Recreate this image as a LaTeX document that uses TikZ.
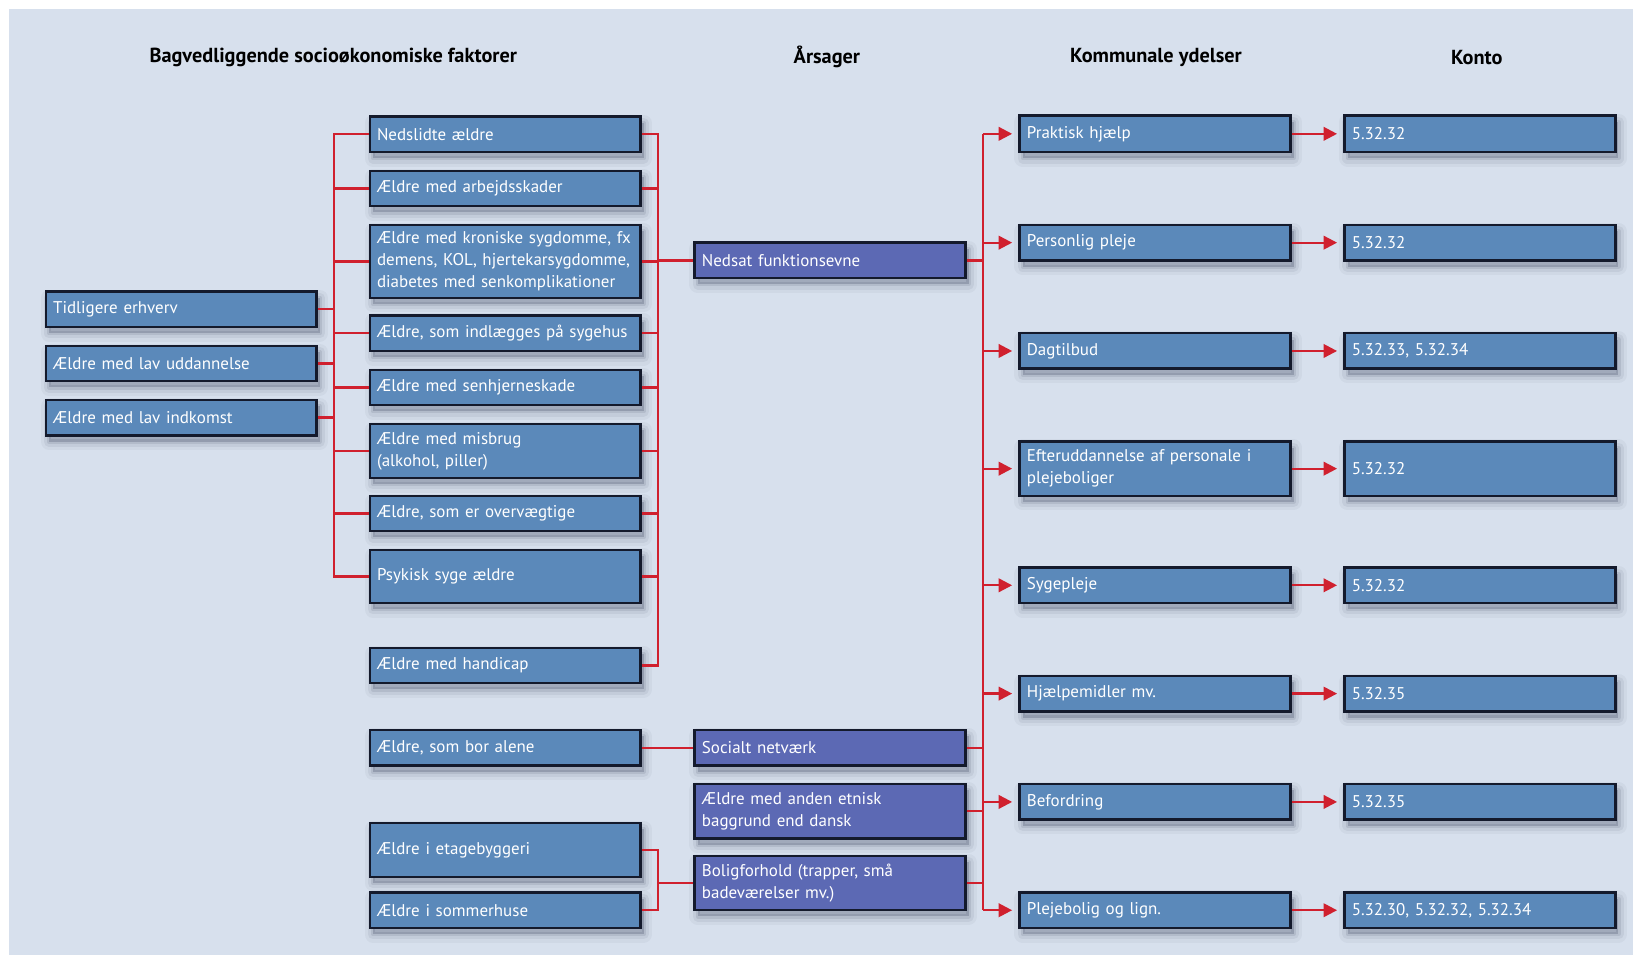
\documentclass[tikz,border=0pt]{standalone}
\usepackage{fontspec}
\setmainfont{PT Sans}
\usetikzlibrary{arrows.meta,shadows}

\definecolor{bgpanel}{HTML}{D7E0ED}
\definecolor{boxblue}{HTML}{5B89BA}
\definecolor{boxviolet}{HTML}{5C69B4}
\definecolor{boxedge}{HTML}{141A2C}
\definecolor{linkred}{HTML}{D0202E}
\definecolor{shadowtone}{HTML}{1E2A44}

\begin{document}
\begin{tikzpicture}[x=1pt,y=-1pt,
  % soft shadow built from stacked translucent layers
  softshadow/.style={
    drop shadow={shadow xshift=3pt, shadow yshift=-6pt, fill=shadowtone,
      draw=shadowtone, line width=16pt, line join=round, opacity=0.045},
    drop shadow={shadow xshift=3pt, shadow yshift=-6pt, fill=shadowtone,
      draw=shadowtone, line width=10pt, line join=round, opacity=0.065},
    drop shadow={shadow xshift=3pt, shadow yshift=-6pt, fill=shadowtone,
      draw=shadowtone, line width=4pt, line join=round, opacity=0.1}},
  box/.style={draw=boxedge, line width=2.3pt, fill=boxblue, text=white,
    minimum width=260pt, text width=246pt, inner xsep=7pt, inner ysep=0pt,
    minimum height=34pt, align=left,
    font=\fontsize{16.3}{21}\selectfont, softshadow},
  cause/.style={box, fill=boxviolet},
  tall/.style={minimum height=52pt},
  head/.style={font=\bfseries\fontsize{19.5}{22}\selectfont, text=black},
  link/.style={draw=linkred, line width=2.2pt},
  arrowlink/.style={link, -{Triangle[length=13pt,width=13pt]}, shorten >=6pt}
]
% page and panel
\fill[white] (0,0) rectangle (1568,917);
\useasboundingbox (0,0) rectangle (1568,917);
\fill[bgpanel] (8.6,8.6) rectangle (1568,917);

% column headings
\node[head] (hA) at (320,55) {Bagvedliggende socioøkonomiske faktorer};
\node[head] (hC) at (794,55) {Årsager};
\node[head] (hD) at (1110,55) {Kommunale ydelser};
\node[head] (hE) at (1418,55) {Konto};

% bus positions
\coordinate (busL) at (321,0);
\coordinate (busM) at (632,0);
\coordinate (busR) at (944,0);

% background factors
\node[box] (a1) at (174,297) {Tidligere erhverv};
\node[box] (a2) at (174,349) {Ældre med lav uddannelse};
\node[box] (a3) at (174,401) {Ældre med lav indkomst};

\node[box] (b1) at (485,129) {Nedslidte ældre};
\node[box] (b2) at (485,181) {Ældre med arbejdsskader};
\node[box, minimum height=70pt] (b3) at (485,251) {Ældre med kroniske sygdomme, fx\\demens, KOL, hjertekarsygdomme,\\diabetes med senkomplikationer};
\node[box] (b4) at (485,320) {Ældre, som indlægges på sygehus};
\node[box] (b5) at (485,372) {Ældre med senhjerneskade};
\node[box, tall] (b6) at (485,433) {Ældre med misbrug\\(alkohol, piller)};
\node[box] (b7) at (485,493) {Ældre, som er overvægtige};
\node[box, minimum height=51pt] (b8) at (485,553.5) {Psykisk syge ældre};
\node[box] (b9) at (485,639) {Ældre med handicap};
\node[box] (b10) at (485,718) {Ældre, som bor alene};
\node[box, tall] (b11) at (485,816) {Ældre i etagebyggeri};
\node[box] (b12) at (485,874) {Ældre i sommerhuse};

% causes
\node[cause] (c1) at (797,250) {Nedsat funktionsevne};
\node[cause] (c2) at (797,718) {Socialt netværk};
\node[cause, tall] (c3) at (797,779) {Ældre med anden etnisk\\baggrund end dansk};
\node[cause, tall] (c4) at (797,848) {Boligforhold (trapper, små\\badeværelser mv.)};

% municipal services
\node[box, minimum height=35pt] (d1) at (1109,128.5) {Praktisk hjælp};
\node[box] (d2) at (1109,233) {Personlig pleje};
\node[box] (d3) at (1109,337) {Dagtilbud};
\node[box, tall] (d4) at (1109,450) {Efteruddannelse af personale i\\plejeboliger};
\node[box] (d5) at (1109,562) {Sygepleje};
\node[box] (d6) at (1109,666) {Hjælpemidler mv.};
\node[box] (d7) at (1109,770) {Befordring};
\node[box] (d8) at (1109,874) {Plejebolig og lign.};

% accounts
\node[box, minimum height=35pt] (e1) at (1421,128.5) {5.32.32};
\node[box] (e2) at (1421,233) {5.32.32};
\node[box] (e3) at (1421,337) {5.32.33, 5.32.34};
\node[box, tall] (e4) at (1421,450) {5.32.32};
\node[box] (e5) at (1421,562) {5.32.32};
\node[box] (e6) at (1421,666) {5.32.35};
\node[box] (e7) at (1421,770) {5.32.35};
\node[box] (e8) at (1421,874) {5.32.30, 5.32.32, 5.32.34};

% background factors -> first bus
\foreach \n in {a1,a2,a3}
  \draw[link] (\n.east) -- (\n.east -| busL);
\draw[link] (b1.west) -- (b1.west -| busL) -- (b8.west -| busL) -- (b8.west);
\foreach \n in {b2,b3,b4,b5,b6,b7}
  \draw[link] (\n.west -| busL) -- (\n.west);

% factors -> Nedsat funktionsevne
\draw[link] (b1.east) -- (b1.east -| busM) -- (b9.east -| busM) -- (b9.east);
\foreach \n in {b2,b3,b4,b5,b6,b7,b8}
  \draw[link] (\n.east) -- (\n.east -| busM);
\draw[link] (c1.west -| busM) -- (c1.west);

% living alone -> social network
\draw[link] (b10.east) -- (c2.west);

% housing
\draw[link] (b11.east) -- (b11.east -| busM) -- (b12.east -| busM) -- (b12.east);
\draw[link] (c4.west -| busM) -- (c4.west);

% causes -> services
\foreach \n in {c1,c2,c3,c4}
  \draw[link] (\n.east) -- (\n.east -| busR);
\draw[link] (d1.west -| busR) -- (d8.west -| busR);
\foreach \n in {d1,d2,d3,d4,d5,d6,d7,d8}
  \draw[arrowlink] (\n.west -| busR) -- (\n.west);

% services -> accounts
\foreach \i in {1,...,8}
  \draw[arrowlink] (d\i.east) -- (e\i.west);
\end{tikzpicture}
\end{document}
